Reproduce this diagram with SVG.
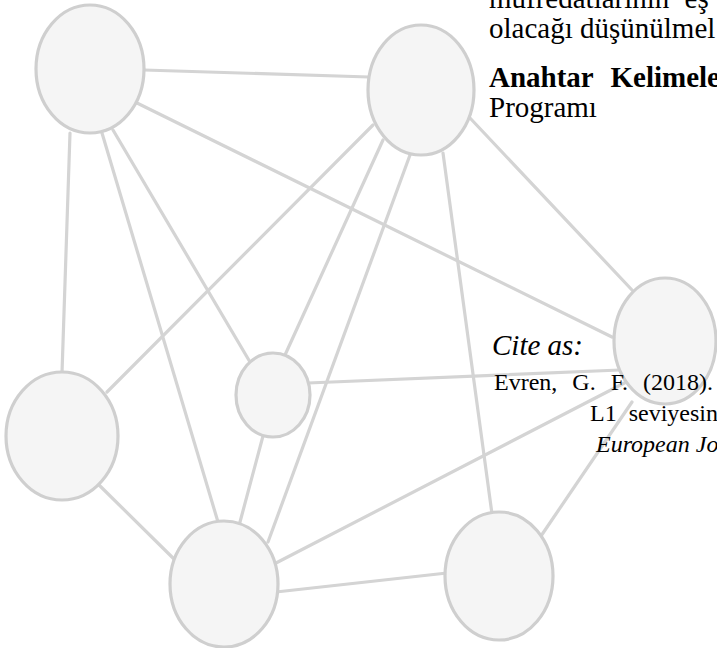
<svg xmlns="http://www.w3.org/2000/svg" width="717" height="648" viewBox="0 0 717 648">
<style>
.edge{stroke:#d4d4d4;stroke-width:3.2;fill:none;stroke-linecap:round}
.node{fill:#f5f5f5;stroke:#cfcfcf;stroke-width:3.2}
.t{font-family:"Liberation Serif","Times New Roman",serif;fill:#000}
.body{font-size:29px}
.cite{font-size:24px}
</style>
<rect width="717" height="648" fill="#ffffff"/>
<g id="connectors">
<line class="edge" x1="144" y1="70" x2="369" y2="77"/>
<line class="edge" x1="137" y1="103" x2="612" y2="337"/>
<line class="edge" x1="70" y1="133" x2="62" y2="373"/>
<line class="edge" x1="102" y1="133" x2="218" y2="522"/>
<line class="edge" x1="113" y1="130" x2="250" y2="362"/>
<line class="edge" x1="373" y1="125" x2="107" y2="392"/>
<line class="edge" x1="383" y1="140" x2="285" y2="355"/>
<line class="edge" x1="410" y1="155" x2="268" y2="542"/>
<line class="edge" x1="443" y1="153" x2="492" y2="514"/>
<line class="edge" x1="470" y1="118" x2="632" y2="290"/>
<line class="edge" x1="308" y1="383" x2="620" y2="370"/>
<line class="edge" x1="263" y1="436" x2="240" y2="522"/>
<line class="edge" x1="97" y1="483" x2="175" y2="560"/>
<line class="edge" x1="276" y1="563" x2="636" y2="377"/>
<line class="edge" x1="276" y1="592" x2="447" y2="573"/>
<line class="edge" x1="541" y1="536" x2="632" y2="402"/>
</g>
<g id="node-a"><ellipse class="node" cx="90" cy="69" rx="54" ry="64"/></g>
<g id="node-b"><ellipse class="node" cx="421" cy="90" rx="53" ry="65"/></g>
<g id="node-c"><ellipse class="node" cx="273" cy="395" rx="37" ry="42"/></g>
<g id="node-d"><ellipse class="node" cx="665" cy="341" rx="51" ry="63"/></g>
<g id="node-e"><ellipse class="node" cx="62" cy="436" rx="56" ry="64"/></g>
<g id="node-f"><ellipse class="node" cx="224" cy="584" rx="54" ry="63"/></g>
<g id="node-g"><ellipse class="node" cx="499" cy="576" rx="54" ry="64"/></g>
<g id="text">
<text class="t body" x="489" y="8" word-spacing="8">müfredatlarının eş</text>
<text class="t body" x="489" y="38">olacağı düşünülmel</text>
<text class="t body" x="489" y="87" font-weight="bold" word-spacing="10">Anahtar Kelimele</text>
<text class="t body" x="489" y="117">Programı</text>
<text class="t body" x="492" y="355" font-style="italic">Cite as:</text>
<text class="t cite" x="494" y="390" word-spacing="9">Evren, G. F. (2018).</text>
<text class="t cite" x="590" y="421" word-spacing="6">L1 seviyesin</text>
<text class="t cite" x="596" y="452" font-style="italic">European Jo</text>
</g>
</svg>
